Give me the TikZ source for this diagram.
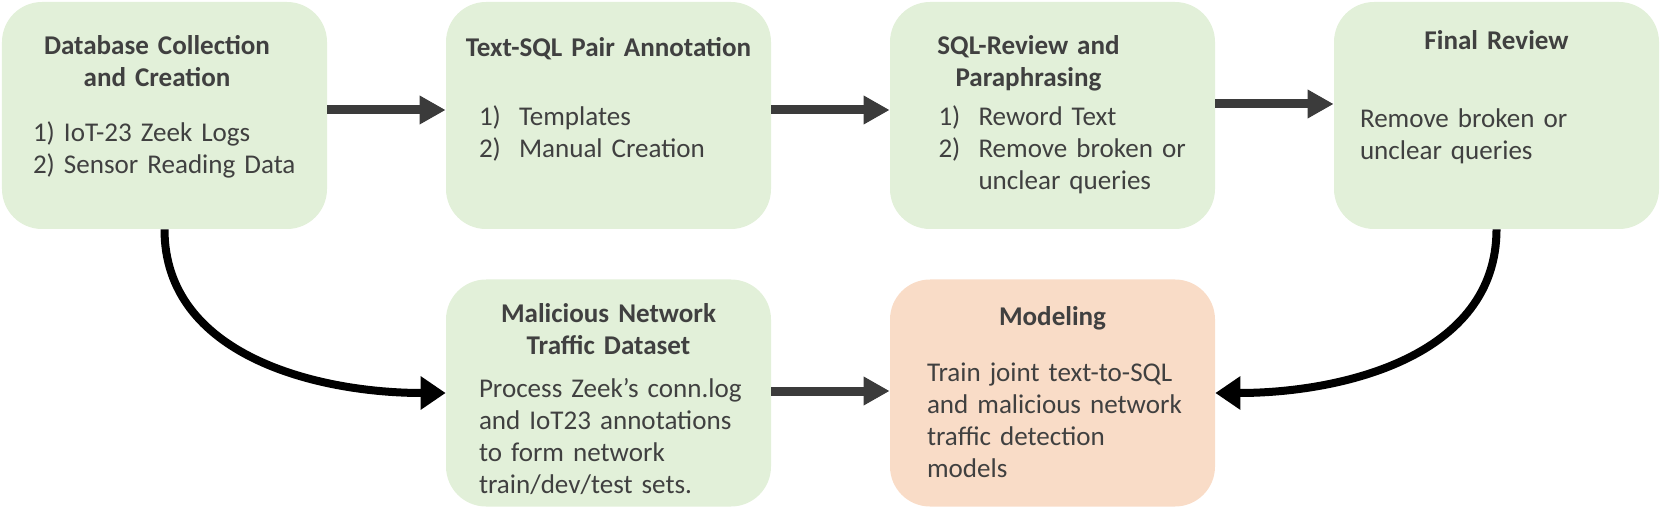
\documentclass[tikz,border=0pt]{standalone}
\usepackage{fontspec}
\setmainfont{Carlito}
\usepackage{tikz}
\usetikzlibrary{calc,arrows.meta}
\definecolor{boxgreen}{HTML}{E2F0D9}
\definecolor{boxorange}{HTML}{F9DCC7}
\definecolor{txtgray}{HTML}{404040}
\definecolor{arrgray}{HTML}{3B3B3B}

\begin{document}
\begin{tikzpicture}[font=\fontsize{15.4}{18.2}\selectfont, text=txtgray,
stagebox/.style={rectangle, rounded corners=8mm, fill=boxgreen, minimum width=65mm, minimum height=45.4mm, inner sep=0pt},
headtext/.style={anchor=base, text width=65mm, align=center, inner sep=0pt, font=\fontsize{15.4}{18.2}\selectfont\bfseries},
bodytext/.style={anchor=base west, text width=58mm, align=left, inner sep=0pt},
flowarrow/.style={draw=arrgray, line width=1.8mm, -{Triangle[width=5.4mm, length=5.2mm]}},
curvearrow/.style={draw=black, line width=1.6mm, -{Triangle[width=6.4mm, length=5mm]}},]
 \useasboundingbox (0,0) rectangle (332.2mm,-103.4mm);

 \node[stagebox] (collect) at (32.9mm,-23.1mm) {};
 \node[stagebox, right of=collect, node distance=88.8mm] (annot) {};
 \node[stagebox, right of=annot, node distance=88.8mm] (review) {};
 \node[stagebox, right of=review, node distance=88.8mm] (final) {};
 \node[stagebox, below of=annot, node distance=55.5mm] (traffic) {};
 \node[stagebox, below of=review, node distance=55.5mm, fill=boxorange] (model) {};

 \node[headtext] (collecthead) at ($ (collect.north) + (-1.5mm, -10.6mm) $) {Database Collection\\and Creation};
 \node[bodytext] (collectbody) at ($ (collect.north west) + (6.2mm, -28mm) $) {1) IoT-23 Zeek Logs\\2) Sensor Reading Data};

 \node[headtext] (annothead) at ($ (annot.north) + (0, -11mm) $) {Text-SQL Pair Annotation};
 \node[bodytext] (annotbody) at ($ (annot.north west) + (6.6mm, -24.8mm) $) {\makebox[8mm][l]{1)}Templates\\\makebox[8mm][l]{2)}Manual Creation};

 \node[headtext] (reviewhead) at ($ (review.north) + (-4.8mm, -10.6mm) $) {SQL-Review and\\Paraphrasing};
 \node[bodytext] (reviewbody) at ($ (review.north west) + (9.7mm, -24.8mm) $) {\makebox[8mm][l]{1)}Reword Text\\\makebox[8mm][l]{2)}Remove broken or\\\hspace*{8mm}unclear queries};

 \node[headtext] (finalhead) at ($ (final.north) + (0, -9.6mm) $) {Final Review};
 \node[bodytext] (finalbody) at ($ (final.north west) + (5.2mm, -25.2mm) $) {Remove broken or\\unclear queries};

 \node[headtext] (traffichead) at ($ (traffic.north) + (0, -8.6mm) $) {Malicious Network\\Traffic Dataset};
 \node[bodytext] (trafficbody) at ($ (traffic.north west) + (6.6mm, -23.6mm) $) {Process Zeek’s conn.log\\and IoT23 annotations\\to form network\\train/dev/test sets.};

 \node[headtext] (modelhead) at ($ (model.north) + (0, -9.2mm) $) {Modeling};
 \node[bodytext] (modelbody) at ($ (model.north west) + (7.4mm, -20.4mm) $) {Train joint text-to-SQL\\and malicious network\\traffic detection\\models};

 \draw[flowarrow] ([yshift=1.1mm]collect.east) -- ([yshift=1.1mm]annot.west);
 \draw[flowarrow] ([yshift=1.1mm]annot.east) -- ([yshift=1.1mm]review.west);
 \draw[flowarrow] ([yshift=2.3mm]review.east) -- ([yshift=2.3mm]final.west);
 \draw[flowarrow] ([yshift=0.4mm]traffic.east) -- ([yshift=0.4mm]model.west);
 \draw[curvearrow] (collect.south) to[out=-90, in=180] (traffic.west);
 \draw[curvearrow] (final.south) to[out=-90, in=0] (model.east);
\end{tikzpicture}
\end{document}
